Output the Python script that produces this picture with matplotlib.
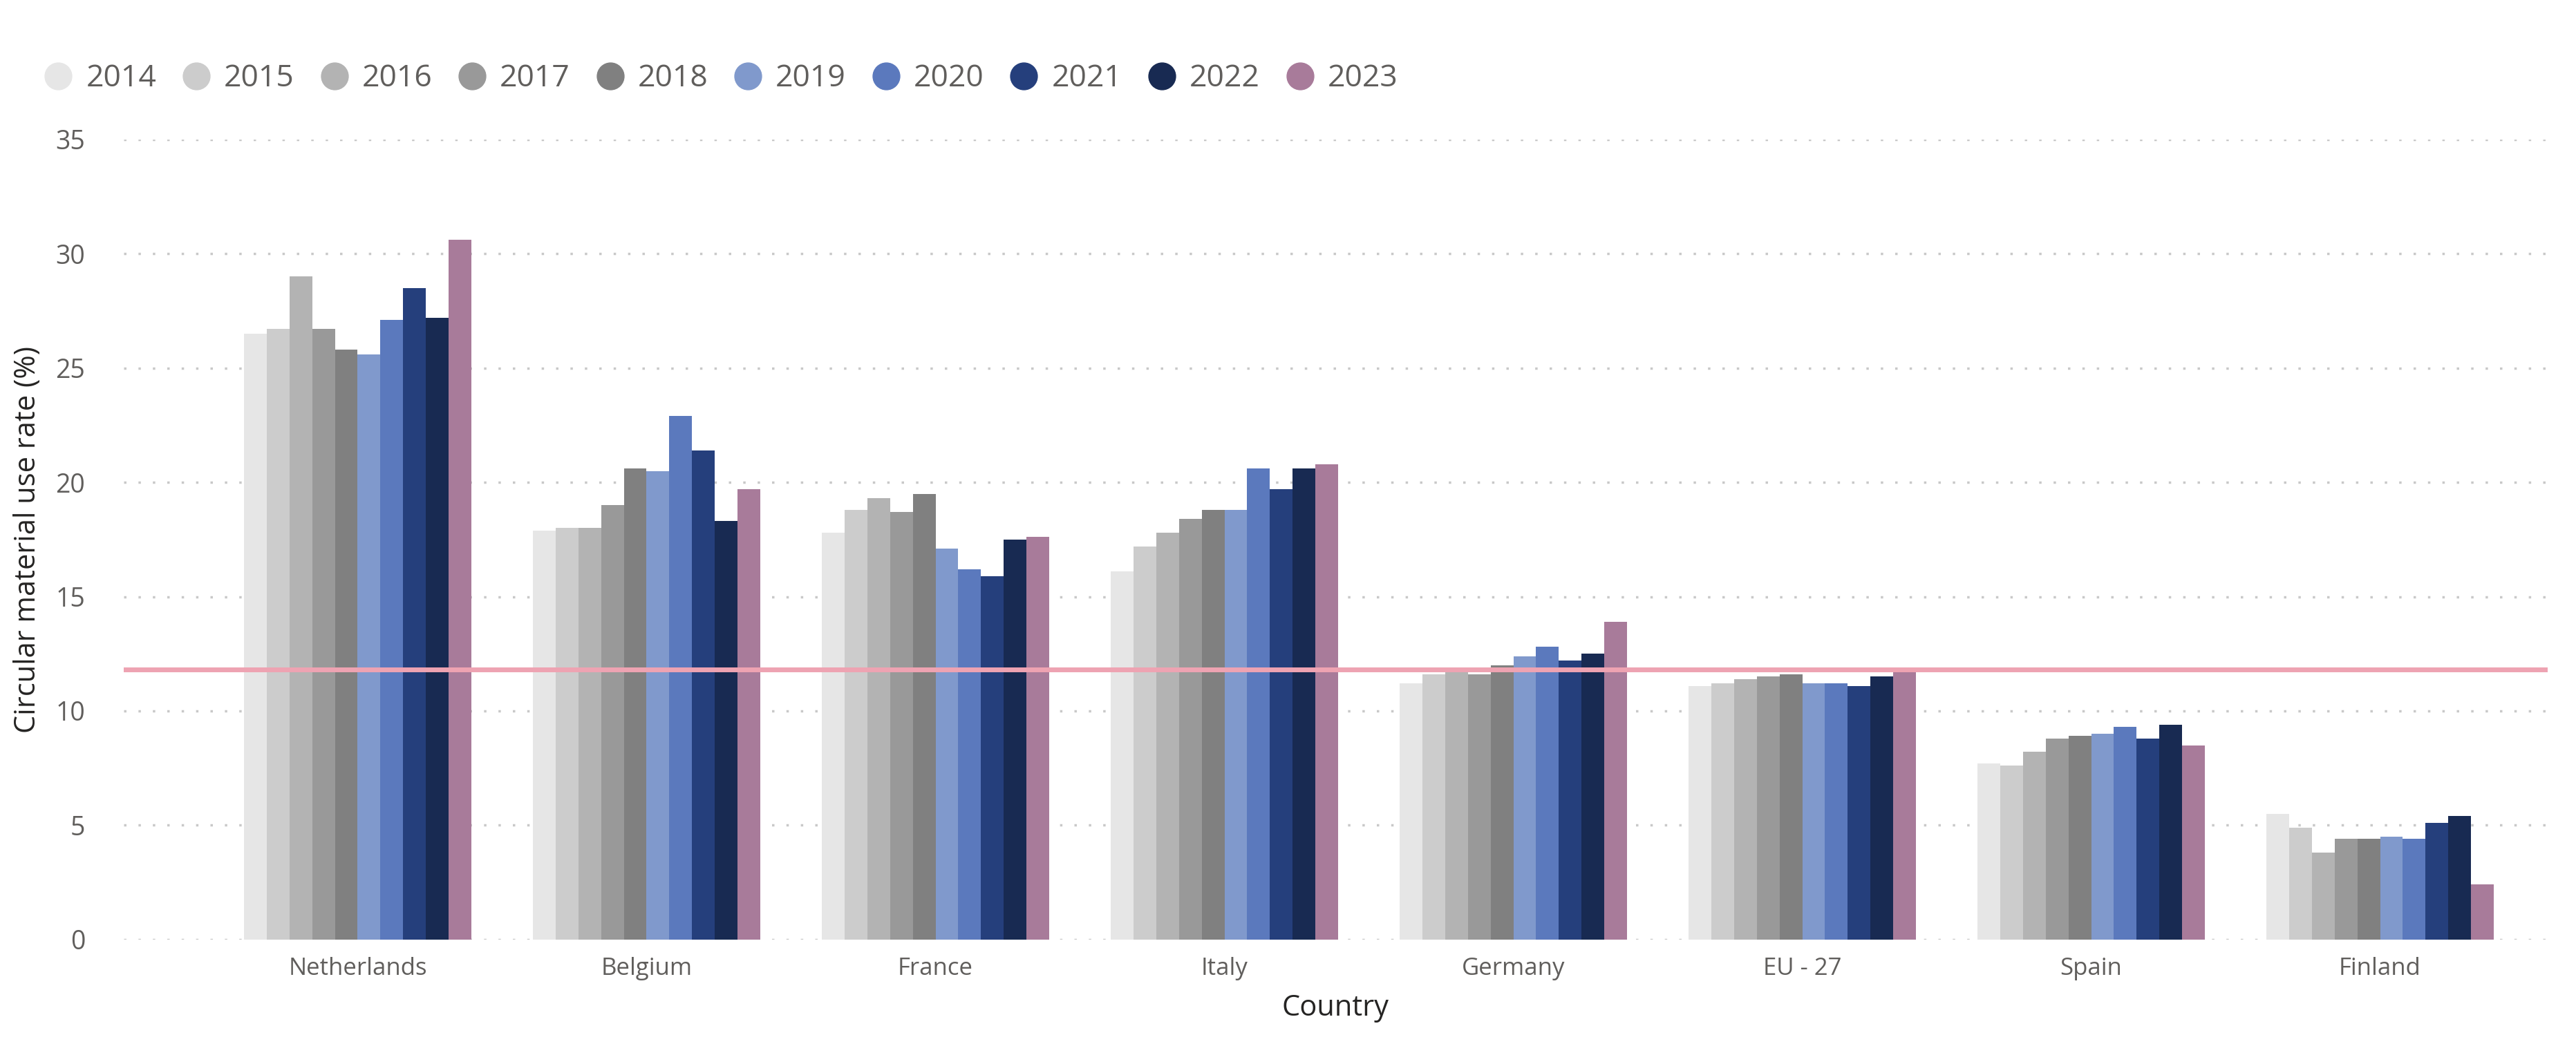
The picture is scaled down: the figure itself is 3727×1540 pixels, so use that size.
import matplotlib
matplotlib.use("Agg")
import matplotlib.pyplot as plt
import numpy as np
from matplotlib.lines import Line2D

plt.rcParams['font.family'] = ['Open Sans', 'DejaVu Sans']

countries = ["Netherlands", "Belgium", "France", "Italy", "Germany", "EU - 27", "Spain", "Finland"]
years = ["2014", "2015", "2016", "2017", "2018", "2019", "2020", "2021", "2022", "2023"]
values = {
    "Netherlands": [26.5, 26.7, 29.0, 26.7, 25.8, 25.6, 27.1, 28.5, 27.2, 30.6],
    "Belgium":     [17.9, 18.0, 18.0, 19.0, 20.6, 20.5, 22.9, 21.4, 18.3, 19.7],
    "France":      [17.8, 18.8, 19.3, 18.7, 19.5, 17.1, 16.2, 15.9, 17.5, 17.6],
    "Italy":       [16.1, 17.2, 17.8, 18.4, 18.8, 18.8, 20.6, 19.7, 20.6, 20.8],
    "Germany":     [11.2, 11.6, 11.8, 11.6, 12.0, 12.4, 12.8, 12.2, 12.5, 13.9],
    "EU - 27":     [11.1, 11.2, 11.4, 11.5, 11.6, 11.2, 11.2, 11.1, 11.5, 11.8],
    "Spain":       [7.7, 7.6, 8.2, 8.8, 8.9, 9.0, 9.3, 8.8, 9.4, 8.5],
    "Finland":     [5.5, 4.9, 3.8, 4.4, 4.4, 4.5, 4.4, 5.1, 5.4, 2.4],
}
reference_value = 11.8
colors = ["#e6e6e6", "#cccccc", "#b3b3b3", "#999999", "#808080",
          "#8099cc", "#5b79bd", "#253f7c", "#182a52", "#a87b9a"]

fig = plt.figure(figsize=(37.27, 15.4), dpi=100)
ax = fig.add_axes([0.048, 0.117, 0.941, 0.752])

n = len(years)
group_w = 0.785
bw = group_w / n
x = np.arange(len(countries))
for i, yr in enumerate(years):
    vals = [values[c][i] for c in countries]
    ax.bar(x - group_w / 2 + bw * (i + 0.5), vals, width=bw, color=colors[i], linewidth=0, zorder=2)

ax.axhline(reference_value, color="#eea3b2", linewidth=5, zorder=3)

ax.set_xlim(-0.81, 7.58)
ax.set_ylim(0, 35)
ax.set_yticks(range(0, 36, 5))
ax.set_xticks(x)
ax.set_xticklabels(countries)
ax.tick_params(axis='x', length=0, labelsize=25, labelcolor="#605e5c", pad=18)
ax.tick_params(axis='y', length=0, labelsize=27, labelcolor="#605e5c", pad=40)
ax.grid(axis='y', linestyle=(0, (1, 5)), color="#c8c8c8", linewidth=2.5, zorder=0)
for s in ax.spines.values():
    s.set_visible(False)
ax.set_xlabel("Country", fontsize=30, color="#252423", labelpad=14)
ax.set_ylabel("Circular material use rate (%)", fontsize=30, color="#252423", labelpad=14)

handles = [Line2D([], [], marker='o', linestyle='', markersize=28, color=c) for c in colors]
fig.legend(handles, years, loc='center left', bbox_to_anchor=(0.0, 0.926), ncol=n, frameon=False,
           fontsize=32, handletextpad=-0.1, columnspacing=0.3, labelcolor="#605e5c")

fig.savefig("out.png", dpi=100)
